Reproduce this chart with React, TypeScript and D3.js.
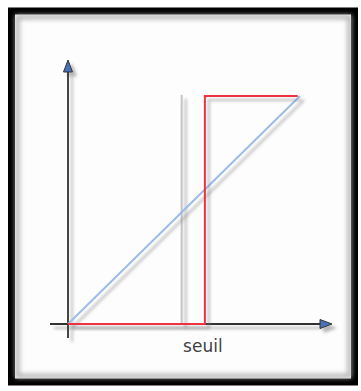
import React from "react";
import * as d3 from "d3";

const linearX = [0, 1];
const linearY = [0, 1];
const stepX = [0, 0.59, 0.59, 0.99];
const stepY = [0, 0, 1, 1];
const seuilX = 0.49;
const seuilLabel = "seuil";

export default function App() {
  const W = 361, H = 391;
  const x = d3.scaleLinear().domain([0, 1]).range([68, 300]);
  const y = d3.scaleLinear().domain([0, 1]).range([324, 96]);
  const line = d3.line<[number, number]>().x(d => x(d[0])).y(d => y(d[1]));
  const linPts = linearX.map((v, i) => [v, linearY[i]] as [number, number]);
  const stepPts = stepX.map((v, i) => [v, stepY[i]] as [number, number]);
  const ox = x(0), oy = y(0);
  return (
    <svg width={W} height={H} style={{ position: "absolute", left: 0, top: 0 }}>
      <defs>
        <filter id="sh" filterUnits="userSpaceOnUse" x="0" y="0" width={W} height={H}>
          <feDropShadow dx="4" dy="4" stdDeviation="1.5" floodColor="#888" floodOpacity="0.6" />
        </filter>
        <filter id="inner" filterUnits="userSpaceOnUse" x="0" y="0" width={W} height={H}>
          <feGaussianBlur stdDeviation="2.5" />
        </filter>
      </defs>
      <rect x={0} y={0} width={W} height={H} fill="#fff" />
      <rect x={11.5} y={11} width={343} height={371} fill="#fdfdfd" stroke="#000" strokeWidth={7} />
      <rect x={17.5} y={17} width={332} height={359} fill="none" stroke="#aaa" strokeWidth={4} filter="url(#inner)" />
      {/* seuil line */}
      <line x1={x(seuilX)} x2={x(seuilX)} y1={y(1.005)} y2={oy} stroke="#c4c4c4" strokeWidth={2} filter="url(#sh)" />
      {/* axes */}
      <g filter="url(#sh)">
        <line x1={ox} x2={ox} y1={70} y2={338} stroke="#333" strokeWidth={1.8} />
        <line x1={50} x2={322} y1={oy} y2={oy} stroke="#333" strokeWidth={1.8} />
        <path d={`M${ox},60 L${ox - 4.5},72 L${ox + 4.5},72 Z`} fill="#4a6fb8" stroke="#333" strokeWidth={1} />
        <path d={`M332,${oy} L320,${oy - 4.5} L320,${oy + 4.5} Z`} fill="#4a6fb8" stroke="#333" strokeWidth={1} />
      </g>
      <path d={line(linPts)!} fill="none" stroke="#9dbbe8" strokeWidth={2} filter="url(#sh)" />
      <path d={line(stepPts)!} fill="none" stroke="#ee3040" strokeWidth={2} filter="url(#sh)" />
      <text x={x(0.59) - 2} y={352} textAnchor="middle" fontFamily="'DejaVu Sans', sans-serif" fontSize={17} fill="#444">{seuilLabel}</text>
    </svg>
  );
}
